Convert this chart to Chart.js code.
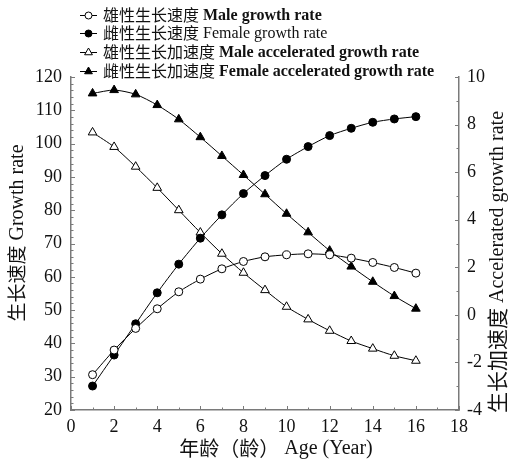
<!DOCTYPE html>
<html><head><meta charset="utf-8">
<script src="https://cdn.jsdelivr.net/npm/chart.js@4"></script>
<style>html,body{margin:0;padding:0;background:#fff}#wrap{width:509px;height:461px}</style>
</head><body><div id="wrap"><canvas id="c" width="509" height="461"></canvas></div>
<script>
const ages = [1,2,3,4,5,6,7,8,9,10,11,12,13,14,15,16];
const maleGrowth = [30.6,38.0,44.5,50.4,55.5,59.3,62.4,64.6,66.0,66.6,66.9,66.6,65.6,64.3,62.8,61.1];
const femaleGrowth = [27.2,36.5,45.9,55.2,63.8,71.6,78.6,85.0,90.4,95.3,99.1,102.4,104.6,106.4,107.4,108.1];
const maleAccel = [7.67,7.06,6.23,5.34,4.40,3.46,2.57,1.77,1.04,0.34,-0.19,-0.67,-1.10,-1.42,-1.72,-1.93];
const femaleAccel = [9.31,9.45,9.27,8.82,8.22,7.47,6.68,5.88,5.07,4.25,3.47,2.70,2.03,1.39,0.79,0.26];
const xTickLabels = [0,2,4,6,8,10,12,14,16,18];
const leftTickLabels = [20,30,40,50,60,70,80,90,100,110,120];
const rightTickLabels = [-4,-2,0,2,4,6,8,10];
const seriesNames = [
  ['雄性生长速度','Male growth rate'],
  ['雌性生长速度','Female growth rate'],
  ['雄性生长加速度','Male accelerated growth rate'],
  ['雌性生长加速度','Female accelerated growth rate']
];
const xTitle = ['年龄（龄）','Age (Year)'];
const leftTitle = ['生长速度','Growth rate'];
const rightTitle = ['生长加速度','Accelerated growth rate'];

const SERIF = '"Liberation Serif","Times New Roman",serif';
const CJK = '"Noto Sans CJK SC",sans-serif';
const AXIS = '#7a7a7a';

const pts = arr => ages.map((a,i)=>({x:a,y:arr[i]}));
const styles = [
  {pointStyle:'circle', fill:'#fff', r:4},
  {pointStyle:'circle', fill:'#000', r:4},
  {pointStyle:'triangle', fill:'#fff', r:5},
  {pointStyle:'triangle', fill:'#000', r:5}
];
const dataArrs = [maleGrowth, femaleGrowth, maleAccel, femaleAccel];
const datasets = dataArrs.map((arr,i)=>({
  label: seriesNames[i].join(' '),
  data: pts(arr),
  yAxisID: i<2 ? 'y' : 'y1',
  borderColor:'#000', borderWidth:1,
  pointStyle: styles[i].pointStyle,
  pointRadius: styles[i].r,
  pointBackgroundColor: styles[i].fill,
  pointBorderColor:'#000', pointBorderWidth:1,
  tension:0.25, fill:false
}));

function measureMixed(ctx, parts, sizes, weight){
  ctx.font = `${sizes[0]}px ${CJK}`;
  const w0 = ctx.measureText(parts[0]).width;
  ctx.font = `${weight} ${sizes[1]}px ${SERIF}`;
  const sp = ctx.measureText(' ').width;
  const w1 = ctx.measureText(parts[1]).width;
  return {w0, sp, w1, total: w0+sp+w1};
}
function drawTitle(ctx, parts, cx, cy, rot, sizes, weight){
  ctx.save();
  ctx.translate(cx, cy);
  ctx.rotate(rot);
  const m = measureMixed(ctx, parts, sizes, weight);
  let x = -m.total/2;
  ctx.textBaseline = 'middle';
  ctx.textAlign = 'left';
  ctx.fillStyle = '#111';
  ctx.font = `${sizes[0]}px ${CJK}`;
  ctx.fillText(parts[0], x, 0);
  x += m.w0 + m.sp;
  ctx.font = `${weight} ${sizes[1]}px ${SERIF}`;
  ctx.fillText(parts[1], x, 1);
  ctx.restore();
}

const decor = {
  id:'decor',
  afterDraw(chart){
    const ctx = chart.ctx;
    const {x, y, y1} = chart.scales;
    const ca = chart.chartArea;
    ctx.save();
    ctx.strokeStyle = AXIS; ctx.lineWidth = 1;
    for(let v=0; v<=18; v++){
      const px = Math.round(x.getPixelForValue(v))+0.5;
      const len = v%2===0 ? 4 : 2.5;
      ctx.beginPath(); ctx.moveTo(px, ca.bottom); ctx.lineTo(px, ca.bottom-len); ctx.stroke();
    }
    for(let v=20; v<=120; v+=2){
      const py = Math.round(y.getPixelForValue(v))+0.5;
      const len = v%10===0 ? 4 : 2.5;
      ctx.beginPath(); ctx.moveTo(ca.left, py); ctx.lineTo(ca.left+len, py); ctx.stroke();
    }
    for(let v=-4; v<=10; v++){
      const py = Math.round(y1.getPixelForValue(v))+0.5;
      const len = v%2===0 ? 4 : 2.5;
      ctx.beginPath(); ctx.moveTo(ca.right, py); ctx.lineTo(ca.right-len, py); ctx.stroke();
    }
    ctx.restore();

    drawTitle(ctx, leftTitle, 17, 233, -Math.PI/2, [19,20], 'normal');
    drawTitle(ctx, rightTitle, 497, 262, -Math.PI/2, [21,20], 'normal');
    drawTitle(ctx, xTitle, 276, 448, 0, [20,20], 'normal');

    const rowsY = [15,33,52,71];
    const wts = ['bold','normal','bold','bold'];
    chart.data.datasets.forEach((ds,i)=>{
      const yy = rowsY[i];
      ctx.save();
      ctx.strokeStyle='#000'; ctx.lineWidth=1;
      ctx.beginPath(); ctx.moveTo(80,yy+0.5); ctx.lineTo(97,yy+0.5); ctx.stroke();
      ctx.fillStyle = ds.pointBackgroundColor; ctx.strokeStyle='#000';
      Chart.helpers.drawPoint(ctx, {pointStyle: ds.pointStyle, radius: ds.pointRadius-0.5, borderWidth:1, rotation:0}, 88.5, yy+0.5);
      ctx.restore();
      ctx.save();
      ctx.fillStyle='#111'; ctx.textBaseline='middle'; ctx.textAlign='left';
      ctx.font = `16px ${CJK}`;
      ctx.fillText(seriesNames[i][0], 103, yy);
      const w0 = ctx.measureText(seriesNames[i][0]).width;
      ctx.font = `${wts[i]} 16px ${SERIF}`;
      ctx.fillText(seriesNames[i][1], 103+w0+4, yy+1);
      ctx.restore();
    });
  }
};

new Chart(document.getElementById('c'), {
  type:'line',
  data:{datasets},
  options:{
    responsive:false, animation:false, devicePixelRatio:1,
    layout:{padding:{top:77,left:0,right:0,bottom:0}},
    plugins:{legend:{display:false}, tooltip:{enabled:false}},
    scales:{
      x:{type:'linear', min:0, max:18,
        afterBuildTicks: s=>{ s.ticks = xTickLabels.map(v=>({value:v})); },
        afterFit: s=>{ s.height = 51; },
        grid:{display:false, drawTicks:false, tickLength:0},
        border:{display:true, color:AXIS, width:1.5},
        ticks:{padding:6, color:'#111', font:{family:SERIF, size:18}, maxRotation:0, autoSkip:false}
      },
      y:{type:'linear', position:'left', min:20, max:120,
        afterBuildTicks: s=>{ s.ticks = leftTickLabels.map(v=>({value:v})); },
        afterFit: s=>{ s.width = 71; },
        grid:{display:false, drawTicks:false, tickLength:0},
        border:{display:true, color:AXIS, width:1.5},
        ticks:{padding:9, color:'#111', font:{family:SERIF, size:18}, autoSkip:false}
      },
      y1:{type:'linear', position:'right', min:-4, max:10,
        afterBuildTicks: s=>{ s.ticks = rightTickLabels.map(v=>({value:v})); },
        afterFit: s=>{ s.width = 50; },
        grid:{display:false, drawTicks:false, tickLength:0},
        border:{display:true, color:AXIS, width:1.5},
        ticks:{padding:8, color:'#111', font:{family:SERIF, size:18}, autoSkip:false}
      }
    }
  },
  plugins:[decor]
});
</script></body></html>
